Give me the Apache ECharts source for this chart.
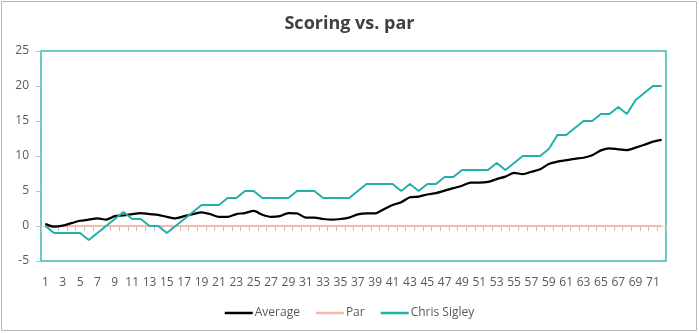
<!DOCTYPE html>
<html>
<head>
<meta charset="utf-8">
<script src="https://cdn.jsdelivr.net/npm/echarts@6/dist/echarts.min.js"></script>
<style>
  html, body { margin: 0; padding: 0; background: #fff; }
  #chart { width: 699px; height: 333px; }
</style>
</head>
<body>
<div id="chart"></div>
<script>
// Round numbers 1..72
const rounds = [];
for (let i = 1; i <= 72; i++) rounds.push(String(i));

// Field average, cumulative strokes vs. par
const average = [
  0.3, -0.1, 0.05, 0.4, 0.75, 0.9, 1.1, 0.9, 1.4, 1.5,
  1.7, 1.85, 1.7, 1.6, 1.3, 1.1, 1.4, 1.7, 1.95, 1.7,
  1.3, 1.3, 1.7, 1.85, 2.15, 1.6, 1.3, 1.4, 1.85, 1.8,
  1.2, 1.2, 1.0, 0.9, 1.0, 1.2, 1.65, 1.8, 1.8, 2.4,
  3.0, 3.4, 4.1, 4.2, 4.5, 4.7, 5.05, 5.4, 5.75, 6.2,
  6.2, 6.3, 6.7, 7.05, 7.6, 7.4, 7.75, 8.1, 8.85, 9.2,
  9.4, 9.6, 9.75, 10.1, 10.8, 11.1, 10.95, 10.85, 11.2, 11.6,
  12.05, 12.3
];

// Par baseline
const par = rounds.map(() => 0);

// Chris Sigley, cumulative strokes vs. par
const chris = [
  0, -1, -1, -1, -1, -2, -1, 0, 1, 2,
  1, 1, 0, 0, -1, 0, 1, 2, 3, 3,
  3, 4, 4, 5, 5, 4, 4, 4, 4, 5,
  5, 5, 4, 4, 4, 4, 5, 6, 6, 6,
  6, 5, 6, 5, 6, 6, 7, 7, 8, 8,
  8, 8, 9, 8, 9, 10, 10, 10, 11, 13,
  13, 14, 15, 15, 16, 16, 17, 16, 18, 19,
  20, 20
];

const FONT = '"Open Sans", "Noto Sans", sans-serif';
const TEXT = '#595959';
const TEAL = '#1fb1aa';

const chart = echarts.init(document.getElementById('chart'), null, { renderer: 'canvas' });

chart.setOption({
  animation: false,
  backgroundColor: '#fff',
  textStyle: { fontFamily: FONT },
  title: {
    text: 'Scoring vs. par',
    left: 'center',
    top: 10,
    textStyle: { fontFamily: FONT, fontSize: 18, fontWeight: 'bold', color: '#404040' }
  },
  graphic: [{
    type: 'rect',
    shape: { x: 1.5, y: 1.5, width: 695, height: 329 },
    style: { fill: null, stroke: '#b8b8b8', lineWidth: 1 },
    silent: true,
    z: 100
  }],
  legend: {
    bottom: 9,
    left: 'center',
    itemWidth: 28,
    itemHeight: 2.5,
    itemGap: 16,
    icon: 'rect',
    textStyle: { fontFamily: FONT, fontSize: 12, color: TEXT, padding: [0, 0, 0, -3] },
    data: ['Average', 'Par', 'Chris Sigley']
  },
  grid: {
    left: 41, right: 33, top: 51, bottom: 72,
    show: true,
    borderColor: '#3cb8b2',
    borderWidth: 1.5,
    containLabel: false
  },
  xAxis: [{
    type: 'category',
    data: rounds,
    boundaryGap: true,
    axisLine: { onZero: true, lineStyle: { color: '#e0d6d3', width: 1 } },
    axisTick: { show: true, interval: 0, length: 5, lineStyle: { color: '#bfbfbf' } },
    axisLabel: { show: false },
    splitLine: { show: false }
  }, {
    type: 'category',
    data: rounds,
    position: 'bottom',
    boundaryGap: true,
    axisLine: { show: false, onZero: false },
    axisTick: { show: false },
    axisLabel: { interval: 1, margin: 16, fontSize: 12, color: TEXT, fontFamily: FONT },
    splitLine: { show: false }
  }],
  yAxis: {
    type: 'value',
    min: -5, max: 25, interval: 5,
    axisLine: { show: false },
    axisTick: { show: true, length: 5, lineStyle: { color: '#bfbfbf' } },
    axisLabel: { margin: 12, fontSize: 12, color: TEXT, fontFamily: FONT },
    splitLine: { show: false }
  },
  series: [{
    name: 'Average',
    type: 'line',
    data: average,
    smooth: 0.25,
    showSymbol: false,
    symbol: 'none',
    lineStyle: { color: '#000', width: 2.25 },
    itemStyle: { color: '#000' },
    z: 3
  }, {
    name: 'Par',
    type: 'line',
    data: par,
    showSymbol: false,
    symbol: 'none',
    lineStyle: { color: '#f7b8a6', width: 2 },
    itemStyle: { color: '#f7b8a6' },
    z: 2
  }, {
    name: 'Chris Sigley',
    type: 'line',
    data: chris,
    showSymbol: false,
    symbol: 'none',
    lineStyle: { color: TEAL, width: 2 },
    itemStyle: { color: TEAL },
    z: 4
  }]
});
</script>
</body>
</html>
